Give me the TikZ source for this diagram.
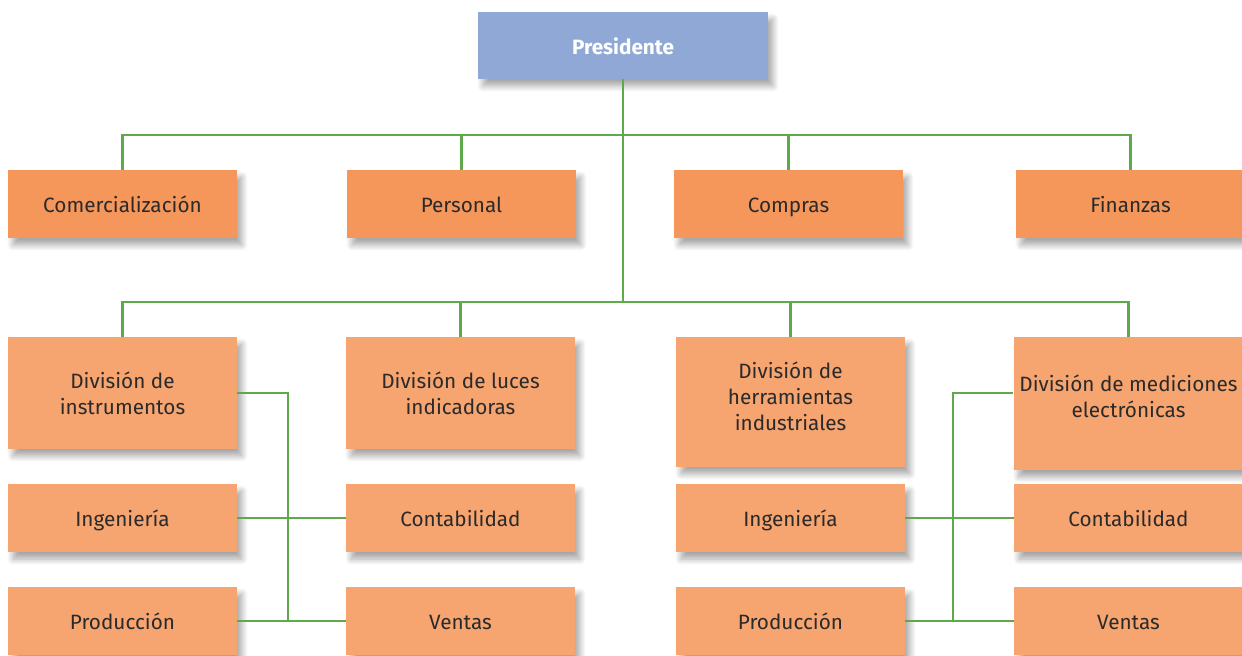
\documentclass[tikz,border=0pt]{standalone}
\usepackage{fontspec}
\setmainfont{Fira Sans}
\usepackage{xcolor}
\usetikzlibrary{positioning, shadows.blur}

\definecolor{presblue}{HTML}{8FA8D6}
\definecolor{deptorange}{HTML}{F5975A}
\definecolor{divorange}{HTML}{F6A470}
\definecolor{linkgreen}{HTML}{5EA94A}
\definecolor{textdark}{HTML}{2A2A2A}

\begin{document}
\begin{tikzpicture}[
  x=0.02cm, y=-0.02cm,
  box/.style={rectangle, minimum width=4.58cm, minimum height=1.36cm, align=center, text=textdark,
    font=\fontsize{11.8}{14.8}\selectfont,
    blur shadow={shadow xshift=0.1cm, shadow yshift=-0.14cm, shadow blur steps=10, shadow blur radius=0.12cm, shadow opacity=35}},
  onebox/.style={box, text height=2.3ex, text depth=0.4ex},
  presbox/.style={onebox, fill=presblue, minimum width=5.8cm, minimum height=1.34cm, text=white, font=\fontsize{11.8}{13}\selectfont\bfseries},
  deptbox/.style={onebox, fill=deptorange},
  divbox/.style={box, fill=divorange},
  unitbox/.style={onebox, fill=divorange},
  link/.style={draw=linkgreen, line width=1.4pt}
]
  \useasboundingbox (0,0) rectangle (1242,656);

  \node[presbox] (pres) at (623,45.5) {Presidente};

  \node[deptbox] (com)  at (122.5,204) {Comercialización};
  \node[deptbox] (per)  at (461.5,204) {Personal};
  \node[deptbox] (comp) at (788.5,204) {Compras};
  \node[deptbox] (fin)  at (1130.5,204) {Finanzas};

  \node[divbox, minimum height=2.24cm] (dinst) at (122.5,393) {División de\\instrumentos};
  \node[divbox, minimum height=2.24cm] (dluz)  at (460.5,393) {División de luces\\indicadoras};
  \node[divbox, minimum height=2.6cm, text depth=0.24cm]  (dherr) at (790.5,402) {División de\\herramientas\\industriales};
  \node[divbox, minimum height=2.66cm, text depth=0.3cm] (dmed)  at (1128.5,403.5) {División de mediciones\\electrónicas};

  \node[unitbox] (ing1)  at (122.5,518) {Ingeniería};
  \node[unitbox] (cont1) at (460.5,518) {Contabilidad};
  \node[unitbox] (ing2)  at (790.5,518) {Ingeniería};
  \node[unitbox] (cont2) at (1128.5,518) {Contabilidad};

  \node[unitbox] (prod1) at (122.5,621) {Producción};
  \node[unitbox] (ven1)  at (460.5,621) {Ventas};
  \node[unitbox] (prod2) at (790.5,621) {Producción};
  \node[unitbox] (ven2)  at (1128.5,621) {Ventas};

  % buses
  \coordinate (lvl1) at (628,135);
  \coordinate (lvl2) at (628,302);
  \coordinate (lx) at (288,0);
  \coordinate (rx) at (953,0);

  \draw[link] (pres.south) -- (pres.south |- lvl2);
  \foreach \n in {com, per, comp, fin}{
    \draw[link] (pres.south |- lvl1) -| (\n.north);
  }
  \foreach \n in {dinst, dluz, dherr, dmed}{
    \draw[link] (pres.south |- lvl2) -| (\n.north);
  }

  \draw[link] (dinst.east) -| (lx |- prod1.east);
  \draw[link] (ing1.east) -- (cont1.west);
  \draw[link] (prod1.east) -- (ven1.west);

  \draw[link] (dmed.west |- dinst.east) -| (rx |- prod2.east);
  \draw[link] (ing2.east) -- (cont2.west);
  \draw[link] (prod2.east) -- (ven2.west);
\end{tikzpicture}
\end{document}
